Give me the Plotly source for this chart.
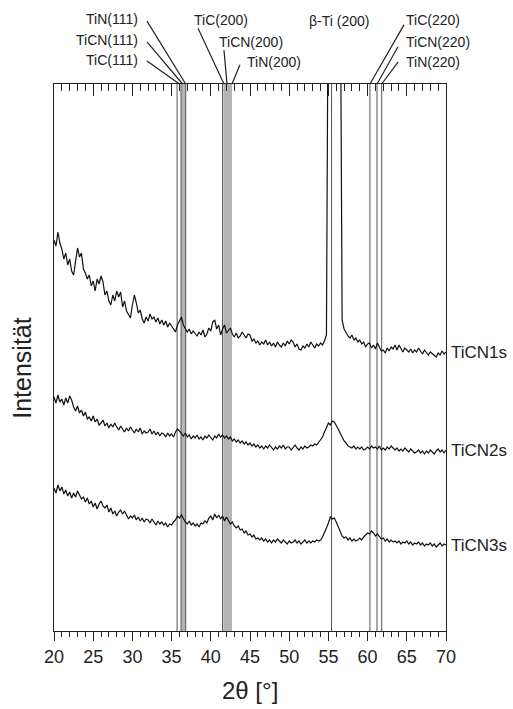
import numpy as np
import plotly.graph_objects as go

# 2theta grid (0.25 deg steps, 20..70)
TWO_THETA = np.linspace(20, 70, 201)

TICN1S = [
    391, 385, 399, 388, 382, 372, 378, 366, 372, 360, 356, 370, 383, 374, 378, 362,
    358, 352, 356, 345, 350, 340, 352, 347, 355, 349, 336, 340, 330, 326, 336, 330,
    340, 334, 339, 324, 330, 320, 317, 313, 326, 336, 328, 318, 321, 312, 308, 314,
    310, 317, 312, 314, 309, 313, 307, 311, 306, 310, 304, 308, 305, 302, 299, 306,
    311, 314, 306, 303, 299, 302, 297, 300, 298, 295, 299, 296, 301, 294, 297, 303,
    300, 309, 311, 302, 306, 296, 302, 306, 298, 301, 303, 297, 294, 298, 293, 295,
    299, 296, 293, 297, 296, 290, 292, 288, 290, 286, 289, 287, 291, 286, 289, 285,
    288, 284, 289, 286, 284, 288, 285, 290, 287, 291, 289, 284, 287, 282, 281, 285,
    283, 287, 284, 289, 286, 283, 287, 285, 288, 286, 290, 296, 700, 720, 720, 720,
    720, 720, 700, 311, 302, 298, 295, 293, 296, 291, 293, 289, 291, 287, 289, 284,
    287, 288, 283, 286, 282, 288, 284, 280, 281, 278, 283, 280, 284, 282, 286, 281,
    286, 283, 279, 283, 281, 279, 282, 278, 281, 279, 283, 280, 277, 281, 279, 276,
    279, 277, 275, 274, 278, 276, 280, 277, 279,
]
TICN2S = [
    234, 228, 236, 229, 232, 226, 233, 228, 235, 231, 224, 220, 225, 218, 221, 215,
    219, 212, 214, 210, 215, 209, 212, 206, 208, 211, 205, 208, 203, 207, 204, 208,
    204, 201, 205, 202, 199, 203, 200, 204, 201, 198, 202, 199, 203, 197, 200, 198,
    199, 202, 197, 200, 196, 199, 195, 198, 197, 194, 198, 195, 197, 194, 199, 202,
    200, 197, 195, 198, 194, 196, 192, 195, 193, 196, 192, 194, 191, 195, 193, 196,
    194, 191, 195, 193, 197, 194, 196, 193, 195, 192, 194, 190, 192, 189, 191, 188,
    190, 187, 189, 186, 188, 185, 187, 184, 186, 183, 185, 182, 185, 183, 186, 183,
    181, 184, 182, 185, 183, 186, 182, 184, 184, 181, 183, 186, 183, 181, 184, 182,
    185, 183, 184, 186, 185, 187, 186, 189, 191, 194, 199, 204, 208, 206, 210, 209,
    206, 202, 198, 194, 190, 188, 185, 184, 183, 185, 182, 184, 182, 184, 181, 182,
    184, 182, 185, 183, 184, 182, 185, 181, 183, 181, 184, 182, 185, 183, 181, 183,
    180, 182, 180, 183, 181, 179, 182, 180, 178, 179, 181, 178, 180, 177, 180, 178,
    181, 179, 177, 180, 182, 179, 181, 178, 181,
]
TICN3S = [
    143, 138, 146, 140, 144, 137, 141, 135, 139, 133, 138, 134, 140, 136, 132, 134,
    129, 133, 127, 130, 124, 128, 122, 127, 130, 125, 123, 126, 119, 123, 117, 120,
    115, 119, 121, 117, 120, 116, 112, 115, 113, 116, 111, 114, 110, 113, 109, 112,
    111, 108, 112, 109, 106, 110, 107, 109, 106, 108, 104, 107, 106, 109, 111, 115,
    113, 116, 112, 109, 107, 110, 106, 108, 105, 107, 104, 108, 107, 110, 108, 113,
    115, 111, 117, 113, 116, 112, 115, 110, 114, 110, 107, 109, 105, 103, 105, 101,
    102, 98, 100, 96, 97, 94, 96, 92, 93, 91, 93, 90, 92, 89, 91, 88,
    91, 89, 92, 90, 88, 91, 89, 87, 90, 88, 89, 91, 88, 90, 87, 89,
    91, 88, 90, 88, 90, 89, 91, 90, 91, 94, 98, 103, 108, 114, 112, 113,
    109, 104, 99, 95, 93, 94, 91, 93, 90, 92, 90, 91, 93, 91, 94, 96,
    98, 97, 100, 98, 95, 97, 94, 92, 93, 90, 92, 89, 91, 89, 90, 88,
    90, 87, 89, 88, 90, 87, 89, 86, 88, 87, 89, 86, 88, 85, 87, 86,
    88, 85, 87, 84, 86, 88, 85, 87, 86,
]
SERIES = [("TiCN1s", TICN1S), ("TiCN2s", TICN2S), ("TiCN3s", TICN3S)]

# reference reflection positions (2theta)
REF_LINES = [35.7, 36.2, 36.8, 41.5, 55.4, 60.3, 61.2, 61.8]
REF_BANDS = [(36.2, 36.8), (41.6, 42.7)]

# top labels: text, x, y(paper), anchor, leader start (x, y), leader target x
TOP_LABELS = [
    ("TiN(111)", 30.97, 1.119, "right", (31.86, 1.115), 36.8),
    ("TiCN(111)", 30.97, 1.080, "right", (31.86, 1.077), 36.4),
    ("TiC(111)", 30.97, 1.044, "right", (31.86, 1.042), 36.0),
    ("TiC(200)", 37.6, 1.117, "left", (38.37, 1.102), 41.68),
    ("TiCN(200)", 40.8, 1.077, "left", (41.68, 1.062), 42.07),
    ("TiN(200)", 44.36, 1.040, "left", (43.72, 1.035), 42.7),
    ("β-Ti (200)", 52.27, 1.115, "left", None, None),
    ("TiC(220)", 64.64, 1.117, "left", (64.64, 1.108), 60.3),
    ("TiCN(220)", 64.64, 1.077, "left", (63.88, 1.068), 61.2),
    ("TiN(220)", 64.64, 1.040, "left", (63.88, 1.040), 61.8),
]

FONT = "Liberation Sans, Arial, sans-serif"
TXT = "#222222"

fig = go.Figure()
for name, vals in SERIES:
    fig.add_trace(go.Scatter(x=TWO_THETA, y=vals, mode="lines", name=name,
                             line=dict(color="#111111", width=1.2), showlegend=False))
# dummy trace for top axis
fig.add_trace(go.Scatter(x=[20, 70], y=[None, None], xaxis="x2", showlegend=False,
                         hoverinfo="skip"))

shapes = []
for a, b in REF_BANDS:
    shapes.append(dict(type="rect", xref="x", yref="paper", x0=a, x1=b, y0=0, y1=1,
                       fillcolor="#b4b4b4", line=dict(width=0), layer="below"))
for xv in REF_LINES:
    shapes.append(dict(type="line", xref="x", yref="paper", x0=xv, x1=xv, y0=0, y1=1,
                       line=dict(color="#555555", width=1), layer="below"))
annotations = []
for text, xv, yv, anchor, lead, target in TOP_LABELS:
    annotations.append(dict(text=text, x=xv, y=yv, xref="x", yref="paper",
                            xanchor=anchor, yanchor="middle", showarrow=False,
                            font=dict(family=FONT, size=14, color=TXT)))
    if lead is not None:
        shapes.append(dict(type="line", xref="x", yref="paper", x0=lead[0], y0=lead[1],
                           x1=target, y1=1.0, line=dict(color="#222222", width=1.2)))
for name, vals in SERIES:
    annotations.append(dict(text=name, x=1, y=vals[-1], xref="paper", yref="y",
                            xanchor="left", yanchor="middle", xshift=3, showarrow=False,
                            font=dict(family=FONT, size=17, color=TXT)))
annotations.append(dict(text="2θ [°]", x=0.5, y=-0.108, xref="paper", yref="paper",
                        xanchor="center", yanchor="middle", showarrow=False,
                        font=dict(family=FONT, size=24, color=TXT)))
annotations.append(dict(text="Intensität", x=-0.082, y=0.481, xref="paper", yref="paper",
                        xanchor="center", yanchor="middle", showarrow=False, textangle=-90,
                        font=dict(family=FONT, size=25, color=TXT)))

fig.update_layout(
    width=513, height=709,
    margin=dict(l=54, r=67, t=84, b=78),
    paper_bgcolor="white", plot_bgcolor="white",
    xaxis=dict(range=[20, 70], dtick=5, tick0=20, ticks="outside", ticklen=9,
               tickwidth=1.2, tickcolor="#222", showline=True, linecolor="#222",
               linewidth=1.2, showgrid=False, zeroline=False,
               minor=dict(dtick=1, ticks="outside", ticklen=5, tickcolor="#222",
                          tickwidth=1, showgrid=False),
               tickfont=dict(family=FONT, size=18, color=TXT)),
    xaxis2=dict(range=[20, 70], overlaying="x", side="top", dtick=5, tick0=20,
                ticks="inside", ticklen=12, tickwidth=1.2, tickcolor="#222",
                showline=True, linecolor="#222", linewidth=1.2, showgrid=False,
                zeroline=False, showticklabels=False,
                minor=dict(dtick=1, ticks="inside", ticklen=7, tickcolor="#222",
                           tickwidth=1, showgrid=False)),
    yaxis=dict(range=[0, 547], showline=True, mirror=True, linecolor="#222",
               linewidth=1.2, showticklabels=False, ticks="", showgrid=False,
               zeroline=False),
    shapes=shapes, annotations=annotations,
)

fig.write_html("out.html")
